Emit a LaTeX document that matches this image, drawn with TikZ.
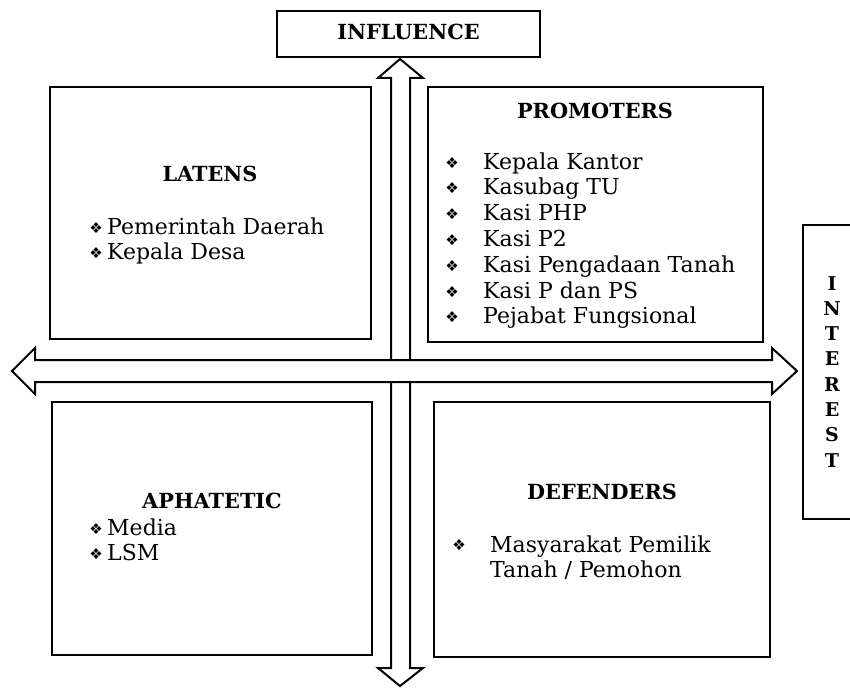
\documentclass[tikz,border=0pt]{standalone}
\usepackage{fontspec}
\setmainfont{DejaVu Serif}
\newfontfamily\symfont{DejaVu Sans}
\begin{document}
\begin{tikzpicture}[x=1pt,y=-1pt,
  box/.style={draw, line width=2pt, fill=white},
  blockarrow/.style={draw, line width=2pt, fill=white, line join=miter},
  title/.style={font=\fontsize{20.8}{20.8}\selectfont\bfseries, anchor=base},
  item/.style={font=\fontsize{22}{22}\selectfont, anchor=base west, inner sep=0pt},
  bul/.style={font=\symfont\fontsize{15}{15}\selectfont, anchor=base, inner sep=0pt},
  letter/.style={font=\fontsize{19}{19}\selectfont\bfseries, anchor=base}]
\clip (0,0) rectangle (850,687);
\fill[white] (0,0) rectangle (850,687);

% axis labels
\draw[box] (277,11) rectangle (540,57);
\node[title] (influence) at (408.5,40) {INFLUENCE};
\draw[box] (803,225) rectangle (880,519);
\foreach \ch [count=\i from 0] in {I,N,T,E,R,E,S,T}
  \node[letter] (interest\i) at (832,{290+25.3*\i}) {\ch};

% quadrants
\draw[box] (50,87) rectangle (371,339);
\draw[box] (428,87) rectangle (763,342);
\draw[box] (52,402) rectangle (372,655);
\draw[box] (434,402) rectangle (770,657);

% vertical double arrow (influence axis)
\draw[blockarrow] (391,78) -- (378,78) -- (400,59) -- (423,78) -- (410,78)
  -- (410,668) -- (423,668) -- (400,686) -- (378,668) -- (391,668) -- cycle;
% horizontal double arrow (interest axis), drawn on top
\draw[blockarrow] (35,360) -- (35,348) -- (12,371) -- (35,394) -- (35,382)
  -- (772,382) -- (772,394) -- (797,371) -- (772,348) -- (772,360) -- cycle;

% LATENS
\node[title] (latens) at (210,182) {LATENS};
\node[bul] (lb1) at (96,233) {❖};
\node[item] (l1) at (107,234) {Pemerintah Daerah};
\node[bul] (lb2) at (96,258) {❖};
\node[item] (l2) at (107,259) {Kepala Desa};

% PROMOTERS
\node[title] (promoters) at (595,119) {PROMOTERS};
\foreach \t [count=\i from 0] in {Kepala Kantor,Kasubag TU,Kasi PHP,Kasi P2,Kasi Pengadaan Tanah,Kasi P dan PS,Pejabat Fungsional}{
  \node[bul] (pb\i) at (452,{168+25.8*\i}) {❖};
  \node[item] (p\i) at (483,{169+25.8*\i}) {\t};
}

% APHATETIC
\node[title] (aphatetic) at (212,508) {APHATETIC};
\node[bul] (ab1) at (96,534) {❖};
\node[item] (a1) at (107,535) {Media};
\node[bul] (ab2) at (96,559) {❖};
\node[item] (a2) at (107,560) {LSM};

% DEFENDERS
\node[title] (defenders) at (602,499) {DEFENDERS};
\node[bul] (db1) at (459,550) {❖};
\node[item] (d1) at (490,552) {Masyarakat Pemilik};
\node[item] (d2) at (490,577) {Tanah / Pemohon};
\end{tikzpicture}
\end{document}
